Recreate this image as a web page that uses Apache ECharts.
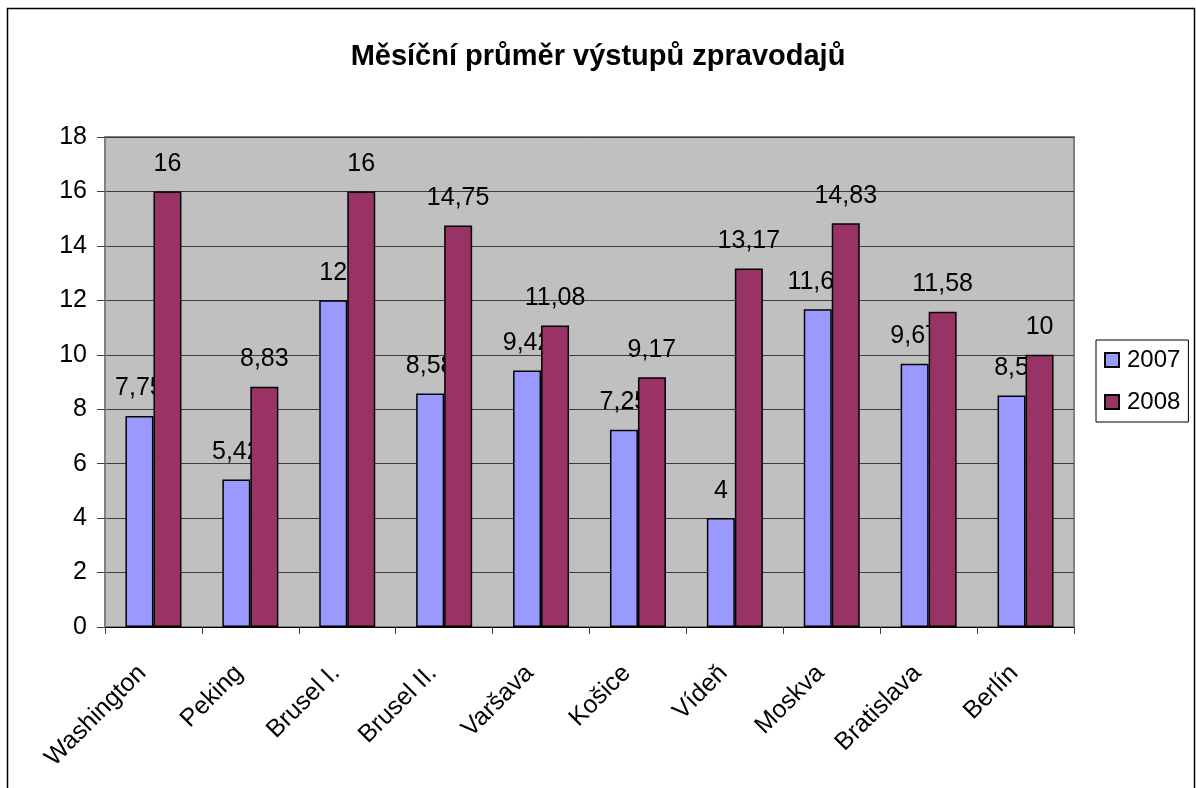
<!DOCTYPE html>
<html>
<head>
<meta charset="utf-8">
<title>Měsíční průměr výstupů zpravodajů</title>
<script src="https://cdn.jsdelivr.net/npm/echarts@6/dist/echarts.min.js"></script>
<style>
  html, body { margin: 0; padding: 0; background: #fff; }
  #chart { width: 1196px; height: 788px; }
</style>
</head>
<body>
<div id="chart"></div>
<script>
// data
const cities = ['Washington', 'Peking', 'Brusel I.', 'Brusel II.', 'Varšava', 'Košice', 'Vídeň', 'Moskva', 'Bratislava', 'Berlín'];
const values2007 = [7.75, 5.42, 12, 8.58, 9.42, 7.25, 4, 11.67, 9.67, 8.5];
const values2008 = [16, 8.83, 16, 14.75, 11.08, 9.17, 13.17, 14.83, 11.58, 10];
const yTicks = { min: 0, max: 18, interval: 2 };

const FONT = '"Liberation Sans", Arial, sans-serif';

// Czech decimal comma
const fmt = (v) => String(v).replace('.', ',');

const chart = echarts.init(document.getElementById('chart'));

const barLabel = {
  show: true,
  position: 'top',
  distance: 15,
  color: '#000',
  fontFamily: FONT,
  fontSize: 25,
  formatter: (p) => fmt(p.value)
};

chart.setOption({
  animation: false,
  backgroundColor: '#fff',
  title: {
    text: 'Měsíční průměr výstupů zpravodajů',
    left: 'center',
    top: 37,
    textStyle: { fontFamily: FONT, fontSize: 29, fontWeight: 'bold', color: '#000' }
  },
  graphic: [{
    type: 'rect',
    shape: { x: 7.5, y: 8.5, width: 1187, height: 800 },
    style: { fill: 'none', stroke: '#000', lineWidth: 1.5 },
    silent: true
  }],
  legend: {
    orient: 'vertical',
    left: 1096,
    top: 340,
    padding: [8, 8, 8, 8],
    itemGap: 18,
    icon: 'rect',
    itemWidth: 14,
    itemHeight: 14,
    borderColor: '#000',
    borderWidth: 1,
    backgroundColor: '#fff',
    textStyle: { fontFamily: FONT, fontSize: 24, color: '#000', padding: [0, 0, 0, 3] },
    data: ['2007', '2008']
  },
  grid: {
    left: 105,
    right: 122,
    top: 137,
    bottom: 161,
    show: true,
    backgroundColor: '#c0c0c0',
    borderColor: '#808080',
    borderWidth: 2
  },
  xAxis: {
    type: 'category',
    data: cities,
    axisLine: { show: true, lineStyle: { color: '#000', width: 1 } },
    axisTick: { show: true, length: 7, alignWithLabel: false, lineStyle: { color: '#404040' } },
    axisLabel: {
      rotate: 45,
      margin: 31,
      padding: [0, 16, 0, 0],
      interval: 0,
      color: '#000',
      fontFamily: FONT,
      fontSize: 25
    },
    splitLine: { show: false }
  },
  yAxis: {
    type: 'value',
    min: yTicks.min,
    max: yTicks.max,
    interval: yTicks.interval,
    axisLine: { show: true, lineStyle: { color: '#808080', width: 2 } },
    axisTick: { show: true, length: 8, lineStyle: { color: '#404040' } },
    axisLabel: { margin: 18, color: '#000', fontFamily: FONT, fontSize: 25 },
    splitLine: { show: true, lineStyle: { color: '#3a3a3a', width: 1 } }
  },
  series: [
    {
      name: '2007',
      type: 'bar',
      data: values2007,
      barWidth: 28,
      barGap: '0%',
      z: 2,
      itemStyle: { color: '#9999ff', borderColor: '#000', borderWidth: 1.5 },
      label: barLabel
    },
    {
      name: '2008',
      type: 'bar',
      data: values2008,
      barWidth: 28,
      z: 3,
      itemStyle: { color: '#993366', borderColor: '#000', borderWidth: 1.5 },
      label: barLabel
    }
  ]
});
</script>
</body>
</html>
